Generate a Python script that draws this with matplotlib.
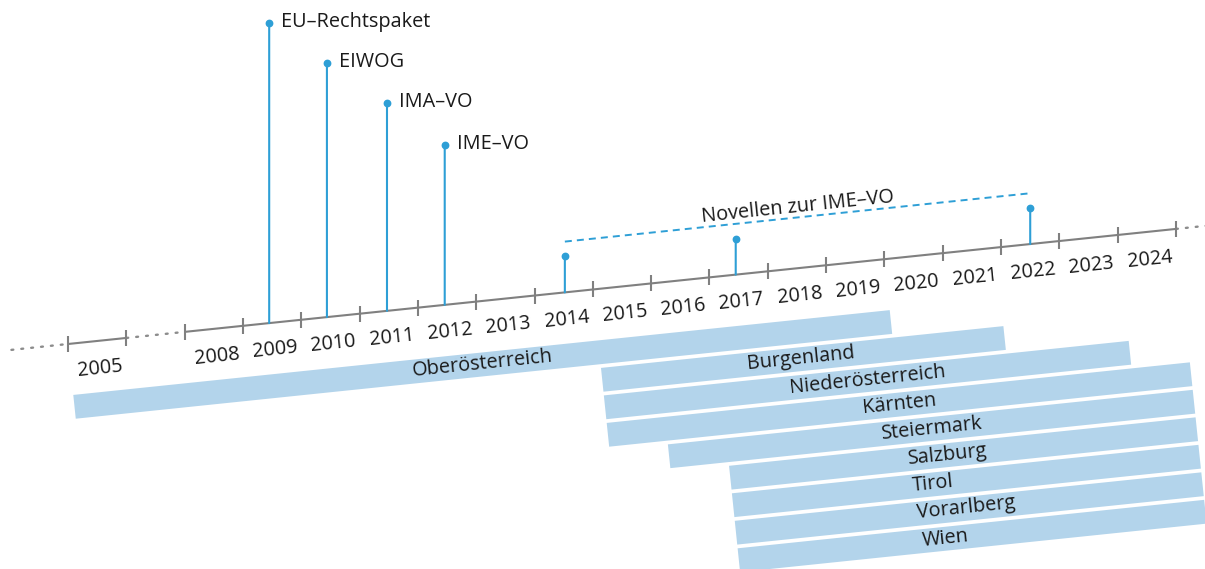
import numpy as np
import matplotlib.pyplot as plt
from matplotlib.patches import Rectangle
from matplotlib.transforms import Affine2D, offset_copy

plt.rcParams['font.family'] = ['Open Sans', 'DejaVu Sans']

# years shown on the (broken) axis; 2006-2007 squeezed into one dotted slot
years = [2005] + list(range(2008, 2025))
tick_years = [2005, 2006] + list(range(2008, 2026))

# events (decimal year) with labels
events = ['EU–Rechtspaket', 'EIWOG', 'IMA–VO', 'IME–VO']
event_dates = [2009.45, 2010.44, 2011.47, 2012.46]
novellen_dates = [2014.52, 2017.45, 2022.5]

# implementation periods per Bundesland
regions = ['Oberösterreich', 'Burgenland', 'Niederösterreich', 'Kärnten',
           'Steiermark', 'Salzburg', 'Tirol', 'Vorarlberg', 'Wien']
start = [2005, 2015, 2015, 2015, 2016, 2017, 2017, 2017, 2017]
end = [2020, 2021.9, 2024, 2025, 2025, 2025, 2025, 2025, 2025]
label_at = [2013.0, 2018.4, 2019.5, 2020.0, 2020.5, 2020.73, 2020.43, 2020.94, 2020.55]

# layout
tilt = 5.93          # degrees
slot_w = 58.63       # px per year slot along the axis
origin = (68, 344)   # 2005 tick in pixels
stem_h = [300, 254, 208, 160]
nov_h = 36
bar_top, bar_step, bar_th = 51.2, 27.65, 23.9

blue = '#2e9fd6'
grey = '#808080'
barc = '#b3d4eb'
txt = '#1a1a1a'
fs = 14.3


def slot(y):
    return np.interp(y, [2005, 2006, 2008, 2025], [0, 1, 2, 19])


fig = plt.figure(figsize=(12.05, 5.69), dpi=100)
ax = fig.add_axes([0, 0, 1, 1])
ax.set_xlim(0, 1205)
ax.set_ylim(569, 0)
ax.axis('off')

frame = Affine2D().scale(slot_w, 1).rotate_deg(-tilt).translate(*origin)
T = frame + ax.transData

# axis line
ax.plot(slot([2005, 2006]), [0, 0], color=grey, lw=1.5, transform=T, solid_capstyle='butt')
ax.plot(slot([2008, 2025]), [0, 0], color=grey, lw=1.5, transform=T, solid_capstyle='butt')
for a, b in [(-0.97, 0), (1, 2), (19, 19.55)]:
    ax.plot([a, b], [0, 0], color='#8c8c8c', lw=1.7, ls=(0, (0.8, 3.4)),
            dash_capstyle='round', transform=T)
ax.plot(slot(tick_years), np.zeros(len(tick_years)), ls='none', marker='|',
        ms=11.5, mew=1.5, color=grey, transform=T)

for y in years:
    ax.text(slot(y + 0.5), 27.5, str(y), transform=T, rotation=tilt,
            rotation_mode='anchor', ha='center', va='center', fontsize=fs, color=txt)

# bars
for i, (r, s, e, la) in enumerate(zip(regions, start, end, label_at)):
    top = bar_top + i * bar_step
    ax.add_patch(Rectangle((slot(s), top), slot(e) - slot(s), bar_th,
                           transform=T, facecolor=barc, edgecolor='none'))
    ax.text(slot(la), top + bar_th / 2 - 0.5, r, transform=T, rotation=tilt,
            rotation_mode='anchor', ha='center', va='center', fontsize=fs, color=txt)

# event stems
for name, d, h in zip(events, event_dates, stem_h):
    s = slot(d)
    ax.annotate('', xy=(s, 0), xycoords=T, xytext=(0, h), textcoords='offset pixels',
                arrowprops=dict(arrowstyle='-', color=blue, lw=1.5, shrinkA=0, shrinkB=0))
    ax.plot(s, 0, 'o', ms=4.6, color=blue, transform=offset_copy(T, fig, y=h, units='dots'))
    ax.annotate(name, xy=(s, 0), xycoords=T, xytext=(12, h + 1), textcoords='offset pixels',
                ha='left', va='center', fontsize=fs, color=txt)

for d in novellen_dates:
    s = slot(d)
    ax.annotate('', xy=(s, 0), xycoords=T, xytext=(0, nov_h), textcoords='offset pixels',
                arrowprops=dict(arrowstyle='-', color=blue, lw=1.5, shrinkA=0, shrinkB=0))
    ax.plot(s, 0, 'o', ms=4.6, color=blue, transform=offset_copy(T, fig, y=nov_h, units='dots'))

ax.plot(slot([novellen_dates[0], novellen_dates[-1]]), [0, 0], color=blue, lw=1.4,
        ls=(0, (3.6, 2.6)), transform=offset_copy(T, fig, y=50.8, units='dots'))
ax.text(slot(np.mean([novellen_dates[0], novellen_dates[-1]])), 0, 'Novellen zur IME–VO',
        transform=offset_copy(T, fig, y=61, units='dots'), rotation=tilt,
        rotation_mode='anchor', ha='center', va='center', fontsize=fs, color=txt)

fig.savefig('out.png', dpi=100)
